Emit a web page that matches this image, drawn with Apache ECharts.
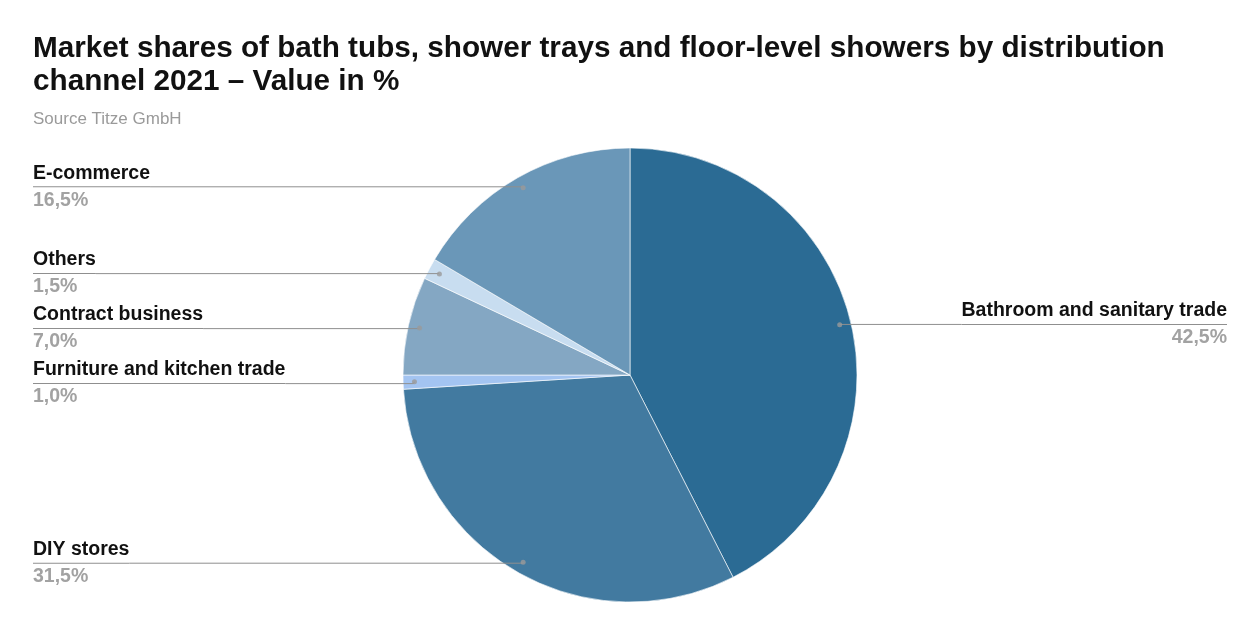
<!DOCTYPE html>
<html>
<head>
<meta charset="utf-8">
<script src="https://cdn.jsdelivr.net/npm/echarts@6/dist/echarts.min.js"></script>
<style>
html,body{margin:0;padding:0;background:#fff;}
#chart{width:1260px;height:630px;}
</style>
</head>
<body>
<div id="chart"></div>
<script>
const categories = ['Bathroom and sanitary trade', 'DIY stores', 'Furniture and kitchen trade', 'Contract business', 'Others', 'E-commerce'];
const values = [42.5, 31.5, 1.0, 7.0, 1.5, 16.5];
const valueLabels = ['42,5%', '31,5%', '1,0%', '7,0%', '1,5%', '16,5%'];
const colors = ['#2b6b94', '#427aa0', '#a3c4f1', '#84a7c3', '#c8ddf0', '#6a97b8'];

const titleText = 'Market shares of bath tubs, shower trays and floor-level showers by distribution\nchannel 2021 \u2013 Value in %';
const subText = 'Source Titze GmbH';

const FONT = '"Liberation Sans", Arial, Helvetica, sans-serif';
const R = 227;
const labelR = R * 0.95;
const center = [630, 375];

const total = values.reduce((a, b) => a + b, 0);
let acc = 0;
const dotData = values.map(v => { const mid = acc + v / 2; acc += v; return [0.95, mid / total * 100]; });

const chart = echarts.init(document.getElementById('chart'), null, {renderer: 'canvas'});
chart.setOption({
  animation: false,
  backgroundColor: '#fff',
  title: {
    text: titleText,
    subtext: subText,
    left: 33,
    top: 32,
    padding: 0,
    itemGap: 13,
    textStyle: { fontFamily: FONT, fontSize: 29.7, fontWeight: 'bold', color: '#111', lineHeight: 33 },
    subtextStyle: { fontFamily: FONT, fontSize: 17, color: '#9a9a9a' }
  },
  polar: { center: center, radius: R },
  angleAxis: { type: 'value', min: 0, max: 100, startAngle: 90, clockwise: true, show: false },
  radiusAxis: { type: 'value', min: 0, max: 1, show: false },
  series: [
    {
      type: 'pie',
      center: center,
      radius: R,
      startAngle: 90,
      clockwise: true,
      silent: true,
      label: { show: false },
      labelLine: { show: false },
      itemStyle: { borderColor: '#ffffff', borderWidth: 0.6 },
      data: categories.map((c, i) => ({ name: c, value: values[i], itemStyle: { color: colors[i] } }))
    },
    {
      type: 'pie',
      center: center,
      radius: labelR,
      startAngle: 90,
      clockwise: true,
      silent: true,
      z: 3,
      itemStyle: { color: 'rgba(0,0,0,0)' },
      label: {
        show: true,
        position: 'outside',
        alignTo: 'edge',
        edgeDistance: 33,
        distanceToLabelLine: 0,
        formatter: p => '{n|' + p.name + '}\n{hr|}\n{v|' + valueLabels[p.dataIndex] + '}',
        rich: {
          n: { fontFamily: FONT, fontSize: 19.5, fontWeight: 'bold', color: '#111', lineHeight: 26, height: 26 },
          hr: { backgroundColor: '#8f8f8f', width: '100%', height: 1, lineHeight: 1 },
          v: { fontFamily: FONT, fontSize: 19.5, fontWeight: 'bold', color: '#a2a2a2', lineHeight: 26, height: 26 }
        }
      },
      labelLine: { show: true, length: 1, length2: 0, lineStyle: { color: '#8f8f8f', width: 1 } },
      data: categories.map((c, i) => ({ name: c, value: values[i] }))
    },
    {
      type: 'scatter',
      coordinateSystem: 'polar',
      silent: true,
      z: 5,
      symbol: 'circle',
      symbolSize: 5,
      itemStyle: { color: '#9a9a9a' },
      data: dotData
    }
  ]
});
</script>
</body>
</html>
